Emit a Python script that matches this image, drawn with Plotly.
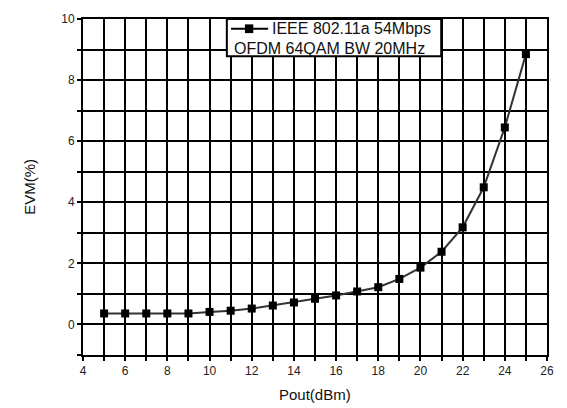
import plotly.graph_objects as go

pout = [5, 6, 7, 8, 9, 10, 11, 12, 13, 14, 15, 16, 17, 18, 19, 20, 21, 22, 23, 24, 25]
evm = [0.36, 0.36, 0.36, 0.36, 0.36, 0.41, 0.45, 0.52, 0.62, 0.72, 0.84, 0.95, 1.08, 1.22, 1.49, 1.86, 2.38, 3.18, 4.49, 6.45, 8.85]

x_ticks = list(range(4, 27))
x_labels = [str(v) if v % 2 == 0 else "" for v in x_ticks]
y_ticks = list(range(-1, 11))
y_labels = [str(v) if v % 2 == 0 and v >= 0 else "" for v in y_ticks]

series_name = "IEEE 802.11a 54Mbps"
series_note = "OFDM 64QAM BW 20MHz"

FONT = "Liberation Sans, Arial, sans-serif"

fig = go.Figure()
fig.add_trace(go.Scatter(
    x=pout, y=evm, mode="lines+markers", name=series_name,
    line=dict(color="#333333", width=2),
    marker=dict(symbol="square", size=8, color="black"),
    showlegend=False,
))

fig.update_layout(
    width=567, height=408,
    margin=dict(l=83, r=20, t=12, b=53),
    paper_bgcolor="white", plot_bgcolor="white",
    font=dict(family=FONT, color="black"),
    xaxis=dict(
        range=[4, 26], tickmode="array", tickvals=x_ticks, ticktext=x_labels,
        showgrid=True, gridcolor="black", gridwidth=2,
        showline=True, linecolor="black", linewidth=2, mirror=True,
        ticks="outside", ticklen=4, tickwidth=2, tickcolor="black",
        tickfont=dict(size=12, color="#222"), zeroline=False,
    ),
    yaxis=dict(
        range=[-1, 10], tickmode="array", tickvals=y_ticks, ticktext=y_labels,
        showgrid=True, gridcolor="black", gridwidth=2,
        showline=True, linecolor="black", linewidth=2, mirror=True,
        ticks="outside", ticklen=4, tickwidth=2, tickcolor="black",
        tickfont=dict(size=12, color="#222"), zeroline=False,
    ),
)

# legend box drawn manually
fig.add_shape(type="rect", xref="paper", yref="paper", x0=0.310, x1=0.772, y0=0.889, y1=1.0,
              line=dict(color="black", width=2), fillcolor="white", layer="above")
fig.add_shape(type="line", xref="paper", yref="paper", x0=0.319, x1=0.399, y0=0.971, y1=0.971,
              line=dict(color="black", width=2), layer="above")
fig.add_shape(type="rect", xref="paper", yref="paper", x0=0.349, x1=0.367, y0=0.958, y1=0.984,
              line=dict(color="black", width=0), fillcolor="black", layer="above")
fig.add_annotation(x=0.403, y=0.971, xref="paper", yref="paper", text=series_name,
                   showarrow=False, xanchor="left", yanchor="middle", font=dict(size=16, color="#111"))
fig.add_annotation(x=0.321, y=0.9125, xref="paper", yref="paper", text=series_note,
                   showarrow=False, xanchor="left", yanchor="middle", font=dict(size=16, color="#111"))

# axis titles
fig.add_annotation(x=0.5, y=-0.1166, xref="paper", yref="paper", text="Pout(dBm)",
                   showarrow=False, xanchor="center", yanchor="middle", font=dict(size=15, color="#111"))
fig.add_annotation(x=-0.114, y=0.501, xref="paper", yref="paper", text="EVM(%)", textangle=-90,
                   showarrow=False, xanchor="center", yanchor="middle", font=dict(size=15, color="#111"))

fig.write_html("out.html")
